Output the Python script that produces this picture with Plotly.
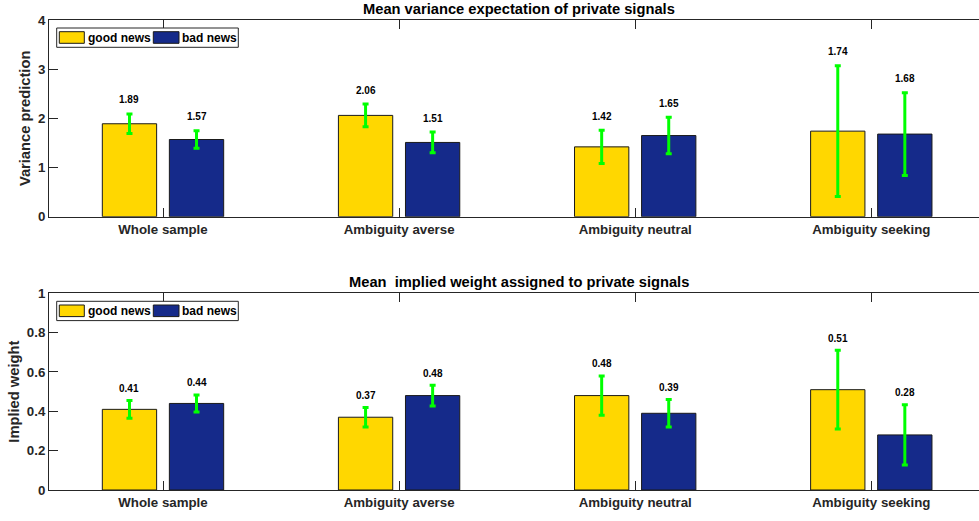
import plotly.graph_objects as go

categories = ["Whole sample", "Ambiguity averse", "Ambiguity neutral", "Ambiguity seeking"]
series_names = ["good news", "bad news"]

var_good = [1.89, 2.06, 1.42, 1.74]
var_good_err = [0.20, 0.23, 0.34, 1.33]
var_bad = [1.57, 1.51, 1.65, 1.68]
var_bad_err = [0.18, 0.21, 0.37, 0.84]

w_good = [0.41, 0.37, 0.48, 0.51]
w_good_err = [0.045, 0.05, 0.10, 0.20]
w_bad = [0.44, 0.48, 0.39, 0.28]
w_bad_err = [0.043, 0.053, 0.07, 0.153]

var_ticks = [0, 1, 2, 3, 4]
w_ticks = [0, 0.2, 0.4, 0.6, 0.8, 1]

W, H, L = 979, 521, 49
YELLOW = "#FFD700"
BLUE = "#152A8A"
GREEN = "#00FF00"
AXC = "#262626"
FONT = "Liberation Sans"
BARGAP = 0.432
BARGROUPGAP = 0.19
xpos = [i + 1 for i in range(len(categories))]
offset = (1 - BARGAP) / 4.0

fig = go.Figure()


def add_bars(row_x, row_y, good, gerr, bad, berr):
    for vals, errs, col, name in [(good, gerr, YELLOW, series_names[0]),
                                  (bad, berr, BLUE, series_names[1])]:
        fig.add_trace(go.Bar(
            x=xpos, y=vals, name=name, xaxis=row_x, yaxis=row_y,
            marker=dict(color=col, line=dict(color="#1a1a1a", width=1)),
            error_y=dict(type="data", array=errs, visible=True, color=GREEN,
                         thickness=3, width=3),
            showlegend=False))


add_bars("x", "y", var_good, var_good_err, var_bad, var_bad_err)
add_bars("x2", "y2", w_good, w_good_err, w_bad, w_bad_err)

annotations = []


def add_labels(xref, yref, good, gerr, bad, berr, shift):
    for vals, errs, sgn in [(good, gerr, -1), (bad, berr, 1)]:
        for xp, v, e in zip(xpos, vals, errs):
            annotations.append(dict(
                x=xp + sgn * offset, y=v + e, xref=xref, yref=yref,
                text=f"{v:.2f}", showarrow=False, yanchor="middle",
                yshift=shift, font=dict(family=FONT, size=10, color="black",
                                        weight="bold")))


add_labels("x", "y", var_good, var_good_err, var_bad, var_bad_err, 14)
add_labels("x2", "y2", w_good, w_good_err, w_bad, w_bad_err, 12)

top_dom = [1 - 216.7 / H, 1 - 20 / H]
bot_dom = [1 - 490 / H, 1 - 293.3 / H]

# titles
title_x = (519 - L) / (W - L)
annotations.append(dict(x=title_x, y=1 - 9 / H, xref="paper", yref="paper",
                        text="Mean variance expectation of private signals",
                        showarrow=False, yanchor="middle", xanchor="center",
                        font=dict(family=FONT, size=14.7, color="black",
                                  weight="bold")))
annotations.append(dict(x=title_x, y=1 - 282 / H, xref="paper", yref="paper",
                        text="Mean  implied weight assigned to private signals",
                        showarrow=False, yanchor="middle", xanchor="center",
                        font=dict(family=FONT, size=14.7, color="black",
                                  weight="bold")))

# custom legends
shapes = []
plot_h = 196.7
plot_w = W - L


def fx(px):
    return (px - L) / plot_w


def add_legend(xd, yd, top_px):
    def fy(px):
        return 1 - (px - top_px) / plot_h
    shapes.append(dict(type="rect", xref=xd, yref=yd, x0=fx(56.7), x1=fx(238.3),
                       y0=fy(top_px + 8), y1=fy(top_px + 27.3),
                       line=dict(color=AXC, width=1), fillcolor="white"))
    for (x0, x1, tx, col, name) in [(59.3, 84.3, 86.0, YELLOW, series_names[0]),
                                    (153.3, 179.0, 180.0, BLUE, series_names[1])]:
        shapes.append(dict(type="rect", xref=xd, yref=yd, x0=fx(x0), x1=fx(x1),
                           y0=fy(top_px + 23.3), y1=fy(top_px + 11.7),
                           line=dict(color="#1a1a1a", width=1), fillcolor=col))
        annotations.append(dict(x=fx(tx), y=fy(top_px + 17.6), xref=xd, yref=yd,
                                text=name, showarrow=False, xanchor="left",
                                yanchor="middle",
                                font=dict(family=FONT, size=12, color="black",
                                          weight="bold")))


add_legend("x domain", "y domain", 20)
add_legend("x2 domain", "y2 domain", 293.3)

x_range = [1 - (163 - L) / 236.1, 1 - (163 - L) / 236.1 + plot_w / 236.1]

xaxis_common = dict(
    range=x_range, tickvals=xpos, ticktext=categories, showline=True,
    linecolor=AXC, linewidth=1, mirror="ticks", ticks="inside", ticklen=9,
    tickcolor=AXC, showgrid=False, zeroline=False, domain=[0, 1],
    automargin=False,
    tickfont=dict(family=FONT, size=13.3, color=AXC, weight="bold"))
yaxis_common = dict(
    showline=True, linecolor=AXC, linewidth=1, mirror=False, ticks="inside",
    ticklen=9, tickcolor=AXC, showgrid=False, zeroline=False, automargin=False,
    tickfont=dict(family=FONT, size=13.3, color=AXC, weight="bold"))
title_font = dict(family=FONT, size=14.7, color=AXC, weight="bold")

fig.update_layout(
    width=W, height=H, margin=dict(l=L, r=0, t=0, b=0, autoexpand=False),
    paper_bgcolor="white", plot_bgcolor="white",
    barmode="group", bargap=BARGAP, bargroupgap=BARGROUPGAP,
    showlegend=False,
    xaxis=dict(xaxis_common, anchor="y"),
    xaxis2=dict(xaxis_common, anchor="y2"),
    yaxis=dict(yaxis_common, range=[0, 4], tickvals=var_ticks, domain=top_dom,
               anchor="x",
               title=dict(text="Variance prediction", font=title_font, standoff=3)),
    yaxis2=dict(yaxis_common, range=[0, 1], tickvals=w_ticks,
                ticktext=[("0" if t == 0 else ("1" if t == 1 else f"{t:.1f}")) for t in w_ticks],
                domain=bot_dom, anchor="x2",
                title=dict(text="Implied weight", font=title_font, standoff=3)),
    yaxis3=dict(range=[0, 4], tickvals=var_ticks, overlaying="y", side="right",
                anchor="x", ticks="inside", ticklen=3, tickcolor=AXC,
                showticklabels=False, showline=False, showgrid=False,
                zeroline=False, automargin=False),
    yaxis4=dict(range=[0, 1], tickvals=w_ticks, overlaying="y2", side="right",
                anchor="x2", ticks="inside", ticklen=3, tickcolor=AXC,
                showticklabels=False, showline=False, showgrid=False,
                zeroline=False, automargin=False),
    annotations=annotations, shapes=shapes,
)

fig.write_html("out.html")
